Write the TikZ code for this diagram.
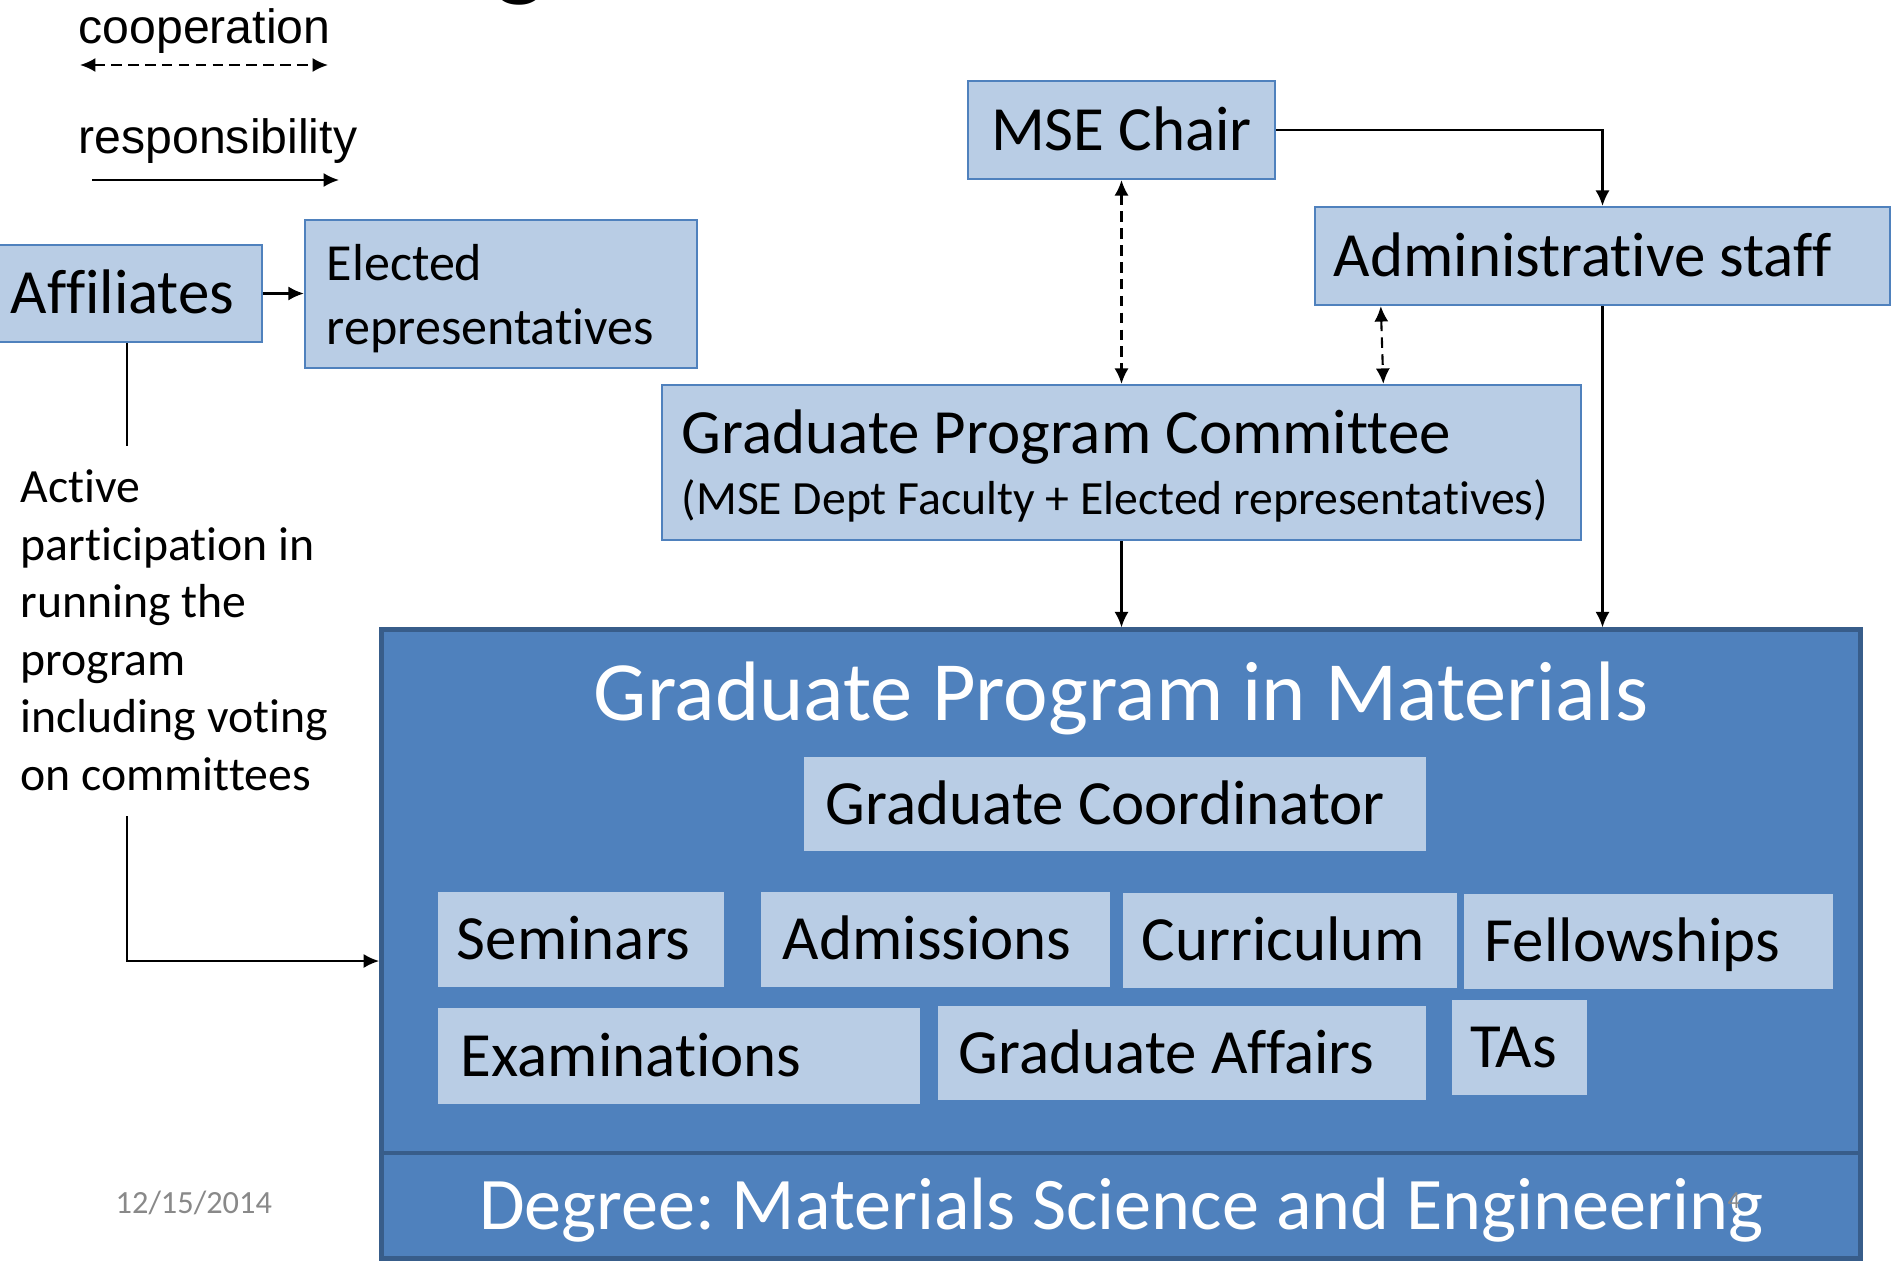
\documentclass[tikz,border=0pt]{standalone}
\usepackage{fontspec}
\setmainfont{Carlito}[Ligatures={NoCommon}]
\newfontfamily\legendfont{Liberation Sans}
\usepackage{tikz}
\usetikzlibrary{calc, arrows.meta}
\usepackage{xcolor}
\definecolor{paleblue}{HTML}{B9CDE5}
\definecolor{midblue}{HTML}{4F81BD}
\definecolor{deepblue}{HTML}{4F81BD}
\definecolor{edgeblue}{HTML}{385D8A}
\definecolor{datagray}{HTML}{898989}
\frenchspacing
\tikzstyle{pale} = [rectangle, draw=midblue, line width=0.6pt, fill=paleblue, inner ysep=0pt, align=flush left, text depth=0pt]
\tikzstyle{duty} = [pale, draw=none]
\tikzstyle{bigbox} = [rectangle, draw=edgeblue, line width=1.4pt, fill=deepblue, text=white, inner sep=0pt]
\tikzstyle{bigfont} = [font=\fontsize{17.9pt}{21.8pt}\selectfont, text height=11.5pt]
\tikzstyle{legendtext} = [font=\legendfont\fontsize{13.7pt}{16pt}\selectfont, anchor=base west, inner sep=0pt]
\tikzstyle{link} = [line width=0.6pt, ->]
\tikzstyle{plainline} = [line width=0.6pt]
\tikzstyle{cooplink} = [line width=0.6pt, <->, dash pattern=on 3pt off 1.8pt]

\begin{document}
\begin{tikzpicture}[x=0.01cm, y=-0.01cm, >={Latex[length=4.4pt, width=4pt]}]

        \useasboundingbox (0,0) rectangle (1892,1260);

        \node (titleg) [font=\fontsize{31pt}{36pt}\selectfont, anchor=base, inner sep=0pt] at (520,-14) {g};

        \node (cooptext) [legendtext] at (78,43) {cooperation};
        \node (resptext) [legendtext] at (78,153) {responsibility};
        \coordinate (coopleft)  at (80,65);
        \coordinate (coopright) at (328,65);
        \coordinate (respleft)  at (92,180);
        \coordinate (respright) at (339,180);
        \draw [cooplink] (coopleft) -- (coopright);
        \draw [link] (respleft) -- (respright);

        \node (aff)  [pale, bigfont, inner xsep=0.13cm, text width=2.38cm, minimum height=0.97cm] at (130,293.5) {Affiliates};
        \node (elec) [pale, font=\fontsize{14.8pt}{18.2pt}\selectfont, text depth=18.2pt, inner xsep=0.22cm, text width=3.48cm, minimum height=1.48cm] at (501,294) {Elected\\representatives};

        \node (chair) [pale, bigfont, align=center, inner xsep=0pt, minimum width=3.07cm, minimum height=0.98cm] at (1121.5,130) {MSE Chair};
        \node (admin) [pale, bigfont, inner xsep=0.19cm, text width=5.37cm, minimum height=0.98cm] at (1602.5,256) {Administrative staff};
        \node (gpc)   [pale, font=\fontsize{13.57pt}{17.4pt}\selectfont, text depth=17.4pt, inner xsep=0.2cm, text width=8.79cm, minimum height=1.55cm] at (1121.5,462.5) {{\fontsize{17.9pt}{17.4pt}\selectfont Graduate Program Committee}\\(MSE Dept Faculty + Elected representatives)};

        \node (active) [anchor=north west, inner sep=0pt, text width=3.3cm, align=flush left, font=\fontsize{13.57pt}{16.36pt}\selectfont] at (20,469) {Active\\participation in\\running the\\program\\including voting\\on committees};

        \node (main) [bigbox, minimum width=14.78cm, minimum height=5.23cm] at (1121,891.5) {};
        \node (gpm)  [font=\fontsize{24pt}{29pt}\selectfont, text=white, anchor=base, inner sep=0pt] at (1121,720) {Graduate Program in Materials};

        \node (coord) [duty, bigfont, inner xsep=0.22cm, text width=5.78cm, minimum height=0.94cm] at (1115,804) {Graduate Coordinator};
        \node (sem)  [duty, bigfont, inner xsep=0.19cm, text width=2.48cm, minimum height=0.95cm] at (581,939.5) {Seminars};
        \node (adm)  [duty, bigfont, inner xsep=0.22cm, text width=3.05cm, minimum height=0.95cm] at (935.5,939.5) {Admissions};
        \node (curr) [duty, bigfont, inner xsep=0.19cm, text width=2.96cm, minimum height=0.95cm] at (1290,940.5) {Curriculum};
        \node (fell) [duty, bigfont, inner xsep=0.21cm, text width=3.27cm, minimum height=0.95cm] at (1648.5,941.5) {Fellowships};
        \node (exam) [duty, bigfont, inner xsep=0.23cm, text width=4.36cm, minimum height=0.95cm] at (679,1056) {Examinations};
        \node (gaff) [duty, bigfont, inner xsep=0.21cm, text width=4.46cm, minimum height=0.94cm] at (1182,1053) {Graduate Affairs};
        \node (tas)  [duty, bigfont, inner xsep=0.18cm, text width=0.99cm, minimum height=0.95cm] at (1519.5,1047.5) {TAs};

        \node (degree) [bigbox, font=\fontsize{21.1pt}{25pt}\selectfont, text height=13.6pt, text depth=0pt, minimum width=14.78cm, minimum height=1.05cm] at (1121,1205.5) {Degree: Materials Science and Engineering};

        \node (date)    [font=\fontsize{9.2pt}{11pt}\selectfont, text=datagray, anchor=base west, inner sep=0pt] at (115,1213) {12/15/2014};
        \node (pagenum) [font=\fontsize{7pt}{8pt}\selectfont, text=datagray, anchor=base west, inner sep=0pt] at (1727,1208) {4};

        \draw [link] (aff.east) -- (aff.east -| elec.west);
        \coordinate (affbend) at (127,446);
        \draw [plainline] (aff.south -| affbend) -- (affbend);
        \coordinate (votetop) at (127,816);
        \coordinate (votecorner) at (127,961);
        \draw [link] (votetop) -- (votecorner) -- (votecorner -| main.west);

        \draw [link] (chair.east) -| (admin.north);
        \draw [cooplink] (chair.south) -- (gpc.north);
        \draw [cooplink] ($(admin.south west) + (67,0)$) -- ($(gpc.north east) + (-199,0)$);
        \draw [link] (gpc.south) -- (gpc.south |- main.north);
        \draw [link] (admin.south) -- (admin.south |- main.north);

    \end{tikzpicture}
\end{document}
